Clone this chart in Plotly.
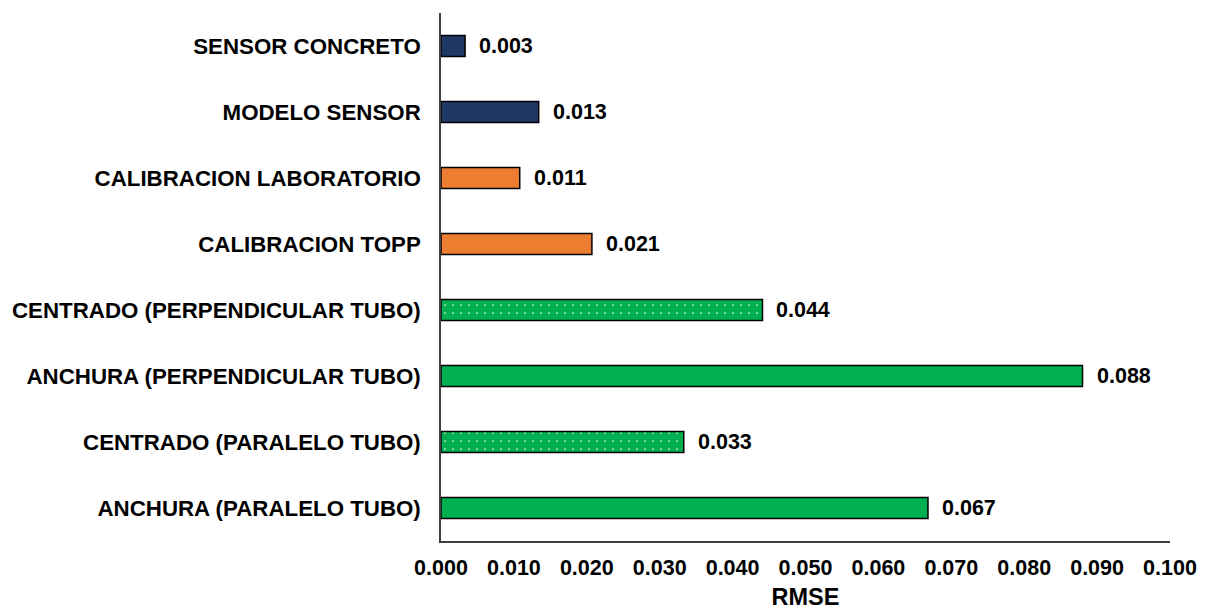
import plotly.graph_objects as go

categories = [
    "SENSOR CONCRETO",
    "MODELO SENSOR",
    "CALIBRACION LABORATORIO",
    "CALIBRACION TOPP",
    "CENTRADO (PERPENDICULAR TUBO)",
    "ANCHURA (PERPENDICULAR TUBO)",
    "CENTRADO (PARALELO TUBO)",
    "ANCHURA (PARALELO TUBO)",
]
rmse = [0.0033, 0.0134, 0.0108, 0.0207, 0.0441, 0.0880, 0.0333, 0.0668]
bar_colors = ["#203864", "#203864", "#ED7D31", "#ED7D31",
              "#00B050", "#00B050", "#00B050", "#00B050"]
patterns = ["", "", "", "", ".", "", ".", ""]
x_ticks = [i / 100 for i in range(11)]

FONT = "Liberation Sans, Arial, sans-serif"

fig = go.Figure()
fig.add_trace(go.Bar(
    x=rmse,
    y=categories,
    orientation="h",
    marker=dict(
        color=bar_colors,
        line=dict(color="#000000", width=1.5),
        pattern=dict(shape=patterns, fgcolor="#FFFFFF", fgopacity=1,
                     size=8, solidity=0.035),
    ),
    showlegend=False,
    hoverinfo="x+y",
))

for c, v in zip(categories, rmse):
    fig.add_annotation(
        x=v, y=c, text=f"<b>{v:.3f}</b>", showarrow=False,
        xanchor="left", yanchor="middle", xshift=12,
        font=dict(family=FONT, size=21.5, color="#000000"),
    )

fig.update_layout(
    width=1198, height=602,
    margin=dict(l=433, r=36, t=5, b=69),
    paper_bgcolor="white", plot_bgcolor="white",
    bargap=0.68,
    font=dict(family=FONT, size=21, color="#000000"),
)
fig.update_xaxes(
    range=[0, 0.1],
    tickvals=x_ticks,
    ticktext=[f"<b>{t:.3f}</b>" for t in x_ticks],
    showgrid=False, zeroline=False,
    showline=True, linecolor="#404040", linewidth=1.5,
    ticks="", ticklabelstandoff=6,
    title=dict(text="<b>RMSE</b>", standoff=10,
               font=dict(family=FONT, size=23.5, color="#000000")),
    tickfont=dict(family=FONT, size=21.5, color="#000000"),
)
fig.update_yaxes(
    autorange="reversed",
    tickvals=categories,
    ticktext=[f"<b>{c}</b>" for c in categories],
    showgrid=False, zeroline=False,
    showline=True, linecolor="#404040", linewidth=1.5,
    ticks="", ticklabelstandoff=14,
    tickfont=dict(family=FONT, size=22.3, color="#000000"),
)

fig.write_html("out.html")
